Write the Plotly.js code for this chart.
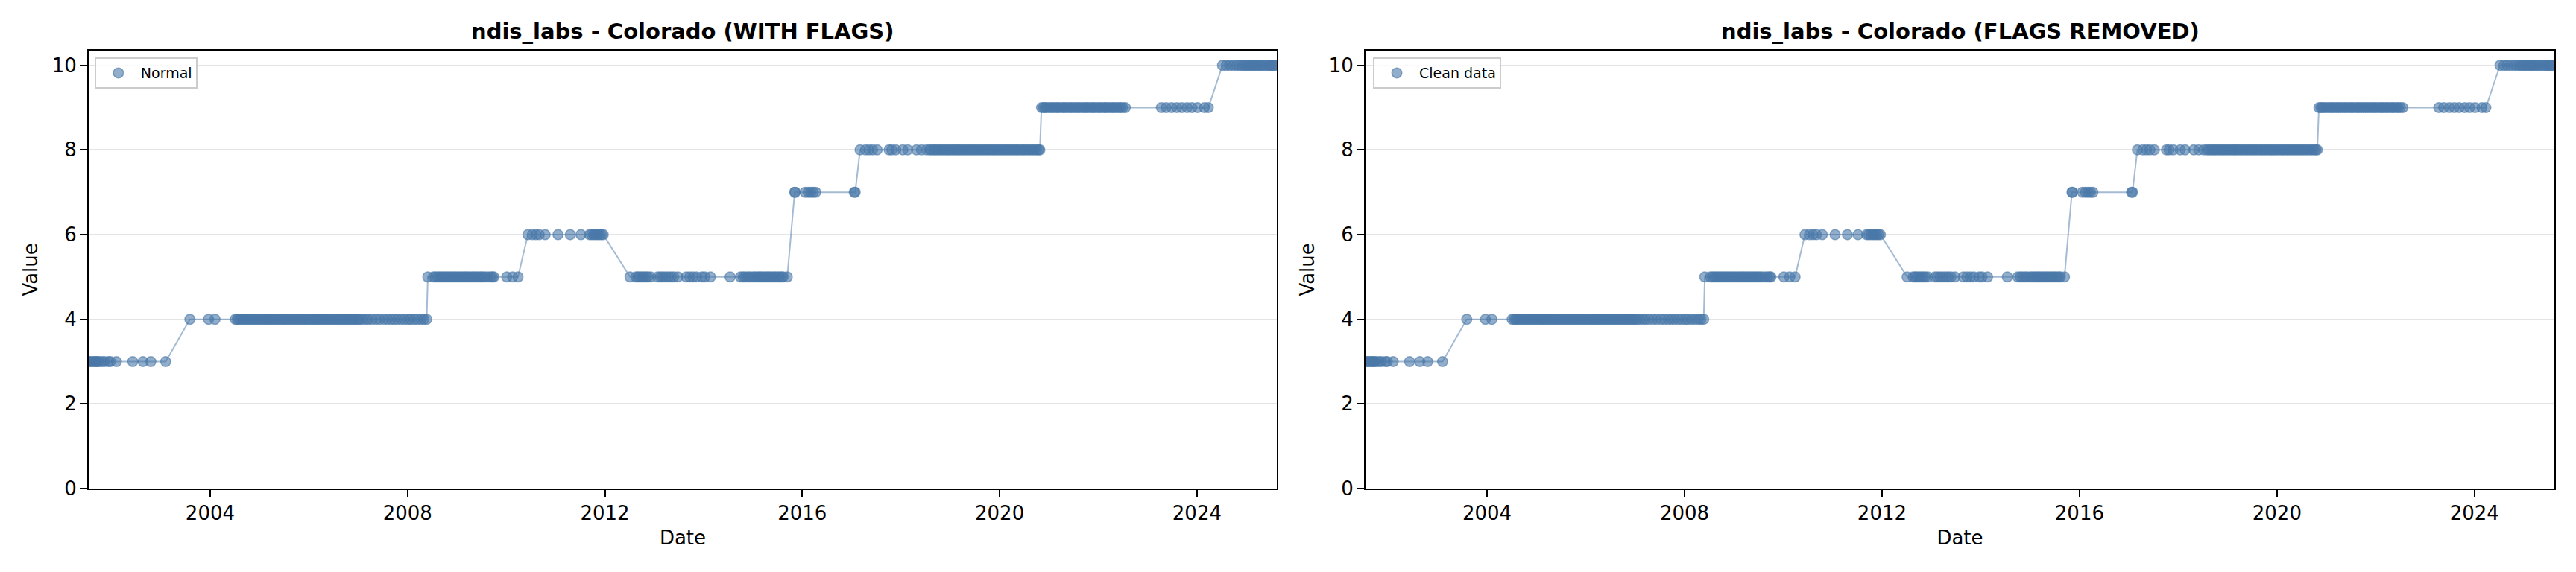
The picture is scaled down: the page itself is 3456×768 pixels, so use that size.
<!DOCTYPE html>
<html>
<head>
<meta charset="utf-8">
<script src="https://cdn.plot.ly/plotly-3.0.1.min.js"></script>
<style>html,body{margin:0;padding:0;background:#fff;} #chart{width:3456px;height:768px;}</style>
</head>
<body>
<div id="chart"></div>
<script>
// Step levels of the series (value held on each plateau)
const levels = [3, 4, 5, 6, 5, 7, 8, 9, 10];

const levelDates = [
  // 3
  ['2001-07-16','2001-07-28','2001-08-10','2001-08-22','2001-09-03','2001-09-12','2001-09-20','2001-10-02','2001-10-23',
   '2001-11-10','2001-12-09','2001-12-24','2002-02-06','2002-06-07','2002-08-22','2002-10-19','2003-02-06'],
  // 4
  ['2003-08-04','2003-12-20','2004-02-06',
   '2004-07-05','2004-07-20','2004-08-01','2004-08-15','2004-09-01','2004-09-15','2004-10-01','2004-10-15','2004-11-01','2004-11-15','2004-12-01','2004-12-15',
   '2005-01-01','2005-01-15','2005-02-01','2005-02-15','2005-03-01','2005-03-15','2005-04-01','2005-04-15','2005-05-01','2005-05-15','2005-06-01','2005-06-15',
   '2005-07-01','2005-07-15','2005-08-01','2005-08-15','2005-09-01','2005-09-15','2005-10-01','2005-10-15','2005-11-01','2005-11-15','2005-12-01','2005-12-15',
   '2006-01-01','2006-01-15','2006-02-01','2006-02-15','2006-03-01','2006-03-15','2006-04-01','2006-04-15','2006-05-01','2006-05-15','2006-06-01','2006-06-15',
   '2006-07-01','2006-07-15','2006-08-01','2006-08-15','2006-09-01','2006-09-15','2006-10-01','2006-10-15','2006-11-01','2006-11-15','2006-12-01','2006-12-15',
   '2007-01-01','2007-01-15','2007-02-05','2007-03-01','2007-03-20','2007-04-15','2007-05-15','2007-06-10','2007-07-10','2007-08-05','2007-09-01',
   '2007-09-25','2007-10-20','2007-11-15','2007-12-10','2008-01-05','2008-01-25','2008-02-20','2008-03-15','2008-04-10','2008-05-01','2008-05-22'],
  // 5
  ['2008-05-30','2008-07-10','2008-07-25','2008-08-10','2008-08-25','2008-09-10','2008-09-25','2008-10-10','2008-10-25','2008-11-10','2008-11-25',
   '2008-12-10','2008-12-25','2009-01-10','2009-01-25','2009-02-10','2009-02-25','2009-03-10','2009-03-25','2009-04-10','2009-04-25','2009-05-10',
   '2009-05-25','2009-06-10','2009-06-25','2009-07-10','2009-07-25','2009-08-15','2009-09-05','2009-09-20','2009-10-01',
   '2010-01-05','2010-02-17','2010-03-29'],
  // 6
  ['2010-06-10','2010-07-13','2010-08-08','2010-09-02','2010-10-16','2011-01-19','2011-04-20','2011-07-08',
   '2011-09-09','2011-09-25','2011-10-10','2011-10-25','2011-11-08','2011-11-22','2011-12-06','2011-12-20'],
  // 5
  ['2012-07-05','2012-08-18','2012-09-01','2012-09-15','2012-10-01','2012-10-15','2012-11-01','2012-11-15','2012-12-05',
   '2013-01-26','2013-02-15','2013-03-05','2013-03-25','2013-04-15','2013-05-05','2013-05-25','2013-06-24',
   '2013-08-25','2013-09-20','2013-10-15','2013-11-10','2013-12-20','2014-01-10','2014-02-20','2014-07-16',
   '2014-10-01','2014-10-20','2014-11-05','2014-11-25','2014-12-10','2015-01-01','2015-01-15','2015-02-01','2015-02-15',
   '2015-03-01','2015-03-15','2015-04-01','2015-04-15','2015-05-01','2015-05-15','2015-06-01','2015-06-15','2015-07-01',
   '2015-07-15','2015-08-01','2015-08-12','2015-09-12'],
  // 7
  ['2015-11-06','2015-11-10','2016-01-23','2016-02-14','2016-03-04','2016-03-22','2016-04-09','2017-01-20','2017-01-27'],
  // 8
  ['2017-03-04','2017-04-13','2017-05-10','2017-06-05','2017-07-08','2017-10-05','2017-10-25','2017-11-24','2018-01-15',
   '2018-02-20','2018-04-25','2018-06-01','2018-07-08',
   '2018-08-01','2018-08-15','2018-09-01','2018-09-15','2018-10-01','2018-10-15','2018-11-01','2018-11-15','2018-12-01','2018-12-15',
   '2019-01-01','2019-01-15','2019-02-01','2019-02-15','2019-03-01','2019-03-15','2019-04-01','2019-04-15','2019-05-01','2019-05-15','2019-06-01','2019-06-15',
   '2019-07-01','2019-07-15','2019-08-01','2019-08-15','2019-09-01','2019-09-15','2019-10-01','2019-10-15','2019-11-01','2019-11-15','2019-12-01','2019-12-15',
   '2020-01-01','2020-01-15','2020-02-01','2020-02-15','2020-03-01','2020-03-15','2020-04-01','2020-04-15','2020-05-01','2020-05-15','2020-06-01','2020-06-15',
   '2020-07-01','2020-07-15','2020-08-01','2020-08-15','2020-09-01','2020-09-15','2020-10-01','2020-10-15','2020-10-25'],
  // 9
  ['2020-11-06','2020-11-20','2020-12-01','2020-12-15',
   '2021-01-01','2021-01-15','2021-02-01','2021-02-15','2021-03-01','2021-03-15','2021-04-01','2021-04-15','2021-05-01','2021-05-15','2021-06-01','2021-06-15',
   '2021-07-01','2021-07-15','2021-08-01','2021-08-15','2021-09-01','2021-09-15','2021-10-01','2021-10-15','2021-11-01','2021-11-15','2021-12-01','2021-12-15',
   '2022-01-01','2022-01-15','2022-02-01','2022-02-15','2022-03-01','2022-03-15','2022-04-01','2022-04-15','2022-05-01','2022-05-15','2022-06-01','2022-06-15',
   '2022-07-01','2022-07-20',
   '2023-04-12','2023-05-18','2023-06-28','2023-08-05','2023-09-10','2023-10-20','2023-11-25','2024-01-05','2024-02-25','2024-03-25'],
  // 10
  ['2024-07-08','2024-08-05','2024-08-30','2024-09-25','2024-10-20','2024-11-10','2024-12-01','2024-12-15','2025-01-01','2025-01-15',
   '2025-02-01','2025-02-15','2025-03-01','2025-03-15','2025-04-01','2025-04-15','2025-05-01','2025-05-20','2025-06-05','2025-06-20',
   '2025-07-01','2025-07-15','2025-07-25','2025-08-14']
];

// Flattened series (panel 1: all data; panel 2: flagged points removed – none visible)
const dates = levelDates.flat();
const values = levelDates.flatMap((d, i) => d.map(() => levels[i]));
const cleanDates = dates.slice();
const cleanValues = values.slice();

const panelTitles = ['ndis_labs - Colorado (WITH FLAGS)', 'ndis_labs - Colorado (FLAGS REMOVED)'];
const legendNames = ['Normal', 'Clean data'];
const yTicks = [0, 2, 4, 6, 8, 10];
const xTickLabels = ['2004', '2008', '2012', '2016', '2020', '2024'];

const FONT = 'DejaVu Sans';
const base = [74, 120, 168];
const markerFill = `rgba(${base[0]},${base[1]},${base[2]},0.6)`;
const lineCol = `rgba(${base[0]},${base[1]},${base[2]},0.5)`;

function lineTrace(x, y, xa, ya) {
  return {x, y, xaxis: xa, yaxis: ya, type: 'scatter', mode: 'lines',
          line: {color: lineCol, width: 2}, showlegend: false, hoverinfo: 'skip'};
}
function markerTrace(x, y, xa, ya, name, legend) {
  return {x, y, xaxis: xa, yaxis: ya, type: 'scatter', mode: 'markers', name, legend,
          marker: {size: 13.5, color: markerFill, line: {color: markerFill, width: 1.5}}};
}

const data = [
  lineTrace(dates, values, 'x', 'y'),
  markerTrace(dates, values, 'x', 'y', legendNames[0], 'legend'),
  lineTrace(cleanDates, cleanValues, 'x2', 'y2'),
  markerTrace(cleanDates, cleanValues, 'x2', 'y2', legendNames[1], 'legend2')
];

const xr = [dates[0], dates[dates.length - 1]];
const xTickVals = xTickLabels.map(y => y + '-01-01');

function xAxis(domain, anchor) {
  return {domain, anchor, type: 'date', range: xr, tickvals: xTickVals, ticktext: xTickLabels,
    showgrid: false, zeroline: false, showline: true, mirror: true, linecolor: '#000', linewidth: 2,
    ticks: 'outside', ticklen: 9, tickwidth: 2, tickcolor: '#000',
    tickfont: {family: FONT, size: 26, color: '#000'},
    title: {text: 'Date', font: {family: FONT, size: 26, color: '#000'}, standoff: 10},
    automargin: false};
}
function yAxis(domain, anchor) {
  return {domain, anchor, range: [0, 10.35], tickvals: yTicks,
    showgrid: true, gridcolor: '#e4e4e4', gridwidth: 2, zeroline: false,
    showline: true, mirror: true, linecolor: '#000', linewidth: 2,
    ticks: 'outside', ticklen: 9, tickwidth: 2, tickcolor: '#000',
    tickfont: {family: FONT, size: 26, color: '#000'},
    title: {text: 'Value', font: {family: FONT, size: 26, color: '#000'}, standoff: 12},
    automargin: false};
}

const legendCommon = {y: 0.8997, xanchor: 'left', yanchor: 'top', bgcolor: 'rgba(255,255,255,0.8)',
  bordercolor: '#cccccc', borderwidth: 2, itemwidth: 50, font: {family: FONT, size: 19, color: '#000'}};

const yDom = [0.1458, 0.9118];
const layout = {
  width: 3456, height: 768,
  margin: {l: 0, r: 0, t: 0, b: 0},
  paper_bgcolor: '#fff', plot_bgcolor: '#fff',
  font: {family: FONT, color: '#000'},
  xaxis: xAxis([0.03443, 0.49566], 'y'),
  yaxis: yAxis(yDom, 'x'),
  xaxis2: xAxis([0.53009, 0.99161], 'y2'),
  yaxis2: yAxis(yDom, 'x2'),
  legend: Object.assign({x: 0.0367}, legendCommon),
  legend2: Object.assign({x: 0.5330}, legendCommon),
  annotations: [
    {text: panelTitles[0], xref: 'paper', yref: 'paper', x: 0.2650, y: 0.9453, xanchor: 'center', yanchor: 'middle',
     showarrow: false, font: {family: FONT, size: 29, weight: 'bold', color: '#000'}},
    {text: panelTitles[1], xref: 'paper', yref: 'paper', x: 0.7609, y: 0.9453, xanchor: 'center', yanchor: 'middle',
     showarrow: false, font: {family: FONT, size: 29, weight: 'bold', color: '#000'}}
  ],
  showlegend: true
};

Plotly.newPlot('chart', data, layout, {displayModeBar: false, staticPlot: true});
</script>
</body>
</html>
